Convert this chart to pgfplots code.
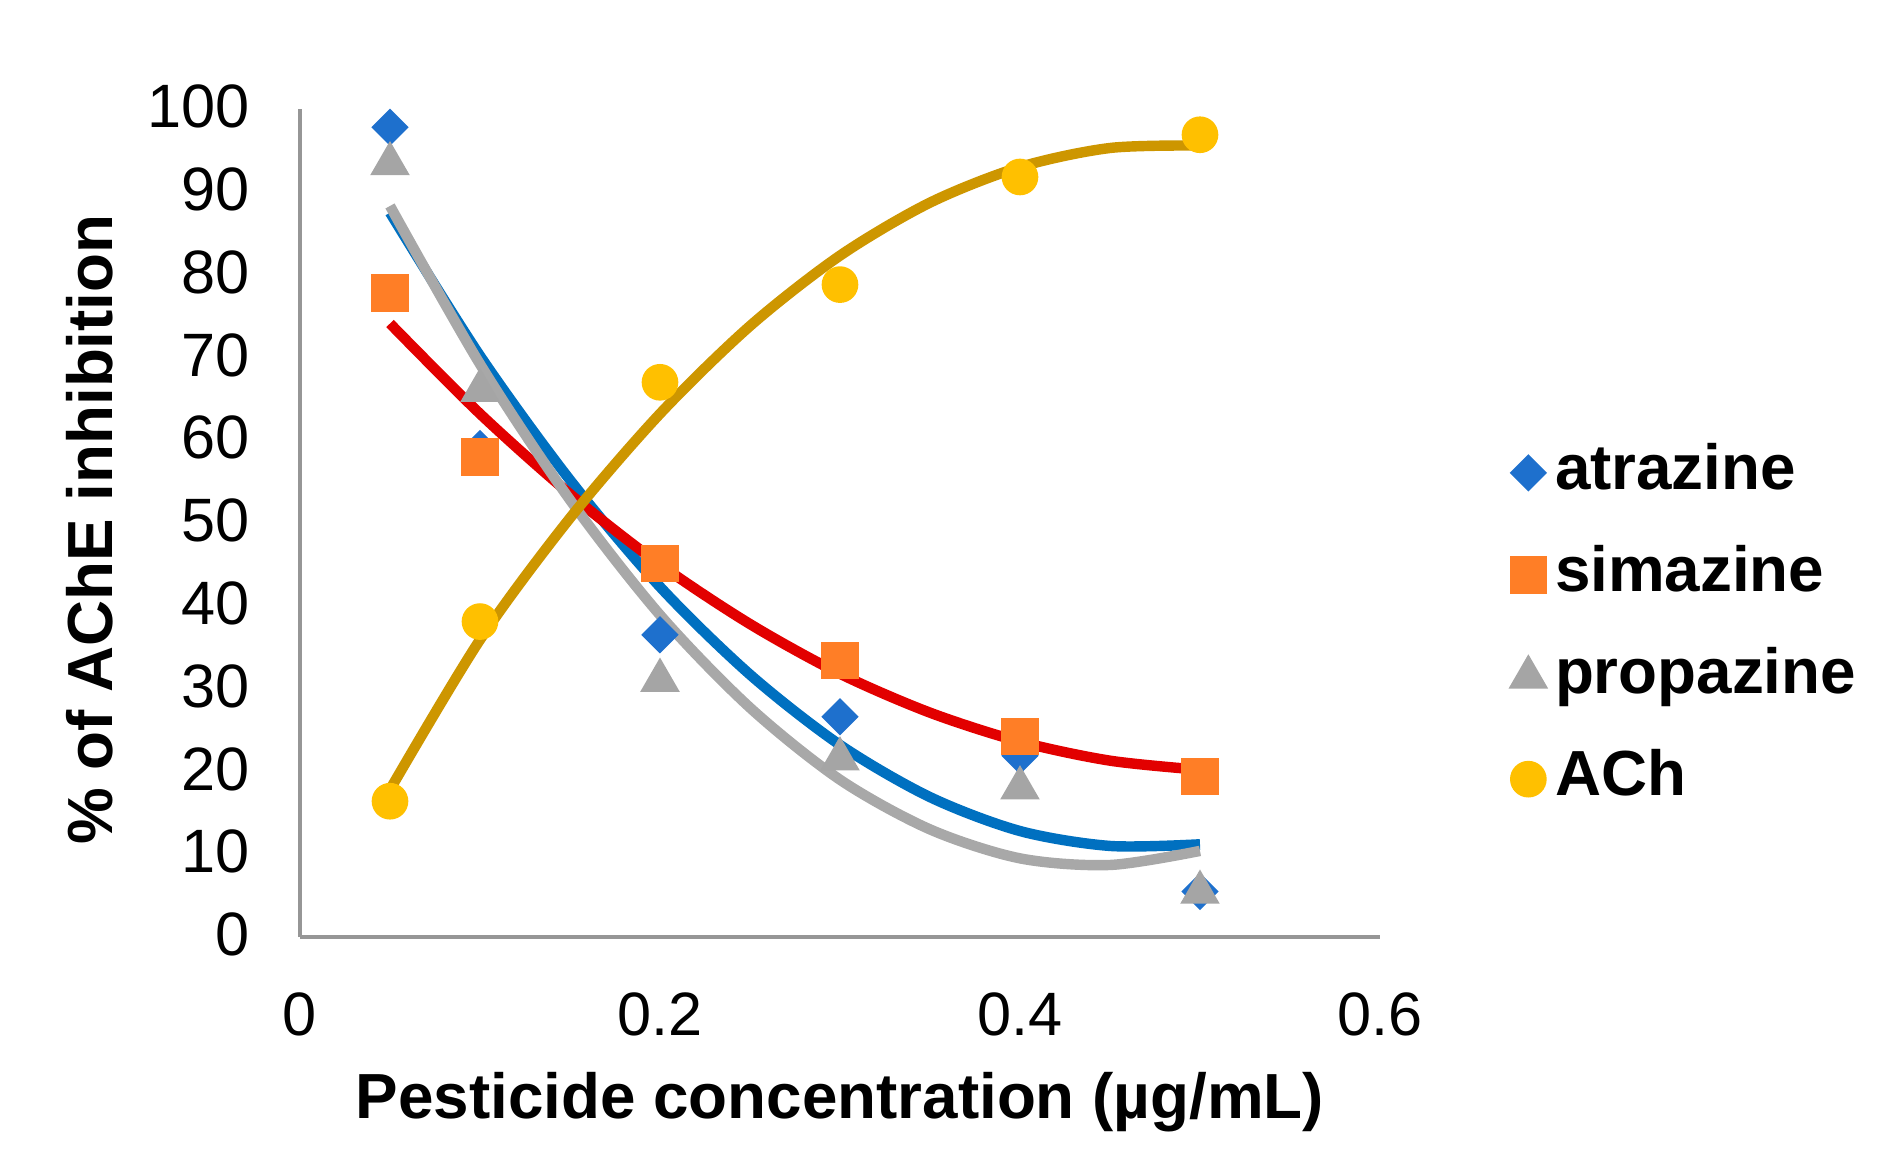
\documentclass[border=0pt]{standalone}
\usepackage{fontspec}
\setmainfont{Liberation Sans}
\usepackage{pgfplots}
\pgfplotsset{compat=1.18}
\definecolor{atzmark}{RGB}{30,112,205}
\definecolor{atzline}{RGB}{0,112,192}
\definecolor{simmark}{RGB}{255,126,38}
\definecolor{simline}{RGB}{226,0,0}
\definecolor{promark}{RGB}{165,165,165}
\definecolor{proline}{RGB}{168,168,168}
\definecolor{achmark}{RGB}{255,192,0}
\definecolor{achline}{RGB}{205,150,0}
\definecolor{axisgray}{RGB}{150,150,150}
\begin{document}
\begin{tikzpicture}
\begin{axis}[
  scale only axis,
  width=259.2pt, height=198.7pt,
  xmin=0, xmax=0.6, ymin=0, ymax=100,
  axis lines=left,
  axis line style={draw=axisgray, line width=1pt, -},
  xtick={0,0.2,0.4,0.6},
  ytick={0,10,...,100},
  major tick length=0pt,
  /pgf/number format/assume math mode=true,
  tick label style={font=\fontsize{14.7}{17}\selectfont, text=black},
  xticklabel style={yshift=-9.8pt, /pgf/number format/fixed},
  yticklabel style={xshift=-8.6pt, yshift=0.6pt},
  xlabel={Pesticide concentration (µg/mL)},
  ylabel={\% of AChE inhibition},
  label style={font=\bfseries\fontsize{15.3}{18}\selectfont},
  xlabel style={at={(axis description cs:0.5,-0.146)}, anchor=north},
  ylabel style={at={(axis description cs:-0.1593,0.492)}, anchor=south},
  legend cell align=left,
  legend image code/.code={\draw[mark repeat=2,mark phase=2,#1] plot coordinates {(0pt,0pt)(4pt,0pt)(8pt,0pt)};},
  legend style={at={(axis description cs:1.1204,0.3756)}, anchor=west,
    draw=none, fill=none, inner sep=0pt, outer sep=0pt,
    font=\bfseries\fontsize{15.3}{18}\selectfont,
    row sep=6.5pt, column sep=0pt,
    nodes={text height=11pt, text depth=3pt, inner sep=2pt}},
]
% data points
\addplot[only marks, mark=square*, mark size=2.97pt, mark options={rotate=45, draw=atzmark, fill=atzmark}]
  coordinates {(0.05,97.8) (0.1,59) (0.2,36.5) (0.3,26.6) (0.4,21.9) (0.5,5.5)};
\addlegendentry{atrazine}
\addplot[only marks, mark=square*, mark size=4.32pt, mark options={draw=simmark, fill=simmark}]
  coordinates {(0.05,77.8) (0.1,58) (0.2,45.1) (0.3,33.4) (0.4,24.2) (0.5,19.4)};
\addlegendentry{simazine}
\addplot[only marks, mark=triangle*, mark size=5.08pt, mark options={draw=promark, fill=promark}]
  coordinates {(0.05,93.4) (0.1,66) (0.2,31) (0.3,21.5) (0.4,18) (0.5,5.4)};
\addlegendentry{propazine}
\addplot[only marks, mark=*, mark size=4.2pt, mark options={draw=achmark, fill=achmark}]
  coordinates {(0.05,16.4) (0.1,38.1) (0.2,67) (0.3,78.8) (0.4,91.8) (0.5,96.9)};
\addlegendentry{ACh}
% trend lines
\addplot[forget plot, no marks, smooth, atzline, line width=2.5pt]
  coordinates {(0.05,87.5) (0.1,70.2) (0.15,55.2) (0.2,42.3) (0.25,31.7) (0.3,23.2) (0.35,16.9) (0.4,12.8) (0.45,11.0) (0.5,11.2)};
\addplot[forget plot, no marks, smooth, simline, line width=2.5pt]
  coordinates {(0.05,74.1) (0.1,63.2) (0.15,53.5) (0.2,45.0) (0.25,37.8) (0.3,31.8) (0.35,27.1) (0.4,23.6) (0.45,21.3) (0.5,20.2)};
\addplot[forget plot, no marks, smooth, proline, line width=2.5pt]
  coordinates {(0.05,88.3) (0.1,69.2) (0.15,52.8) (0.2,38.9) (0.25,27.7) (0.3,19.0) (0.35,13.0) (0.4,9.5) (0.45,8.7) (0.5,10.4)};
\addplot[forget plot, no marks, smooth, achline, line width=2.5pt]
  coordinates {(0.05,17.8) (0.1,35.9) (0.15,50.6) (0.2,63.2) (0.25,73.8) (0.3,82.3) (0.35,88.7) (0.4,93.0) (0.45,95.3) (0.5,95.6)};
\end{axis}
\path (-72pt,-56.88pt) rectangle (383.04pt,224.88pt);
\end{tikzpicture}
\end{document}
